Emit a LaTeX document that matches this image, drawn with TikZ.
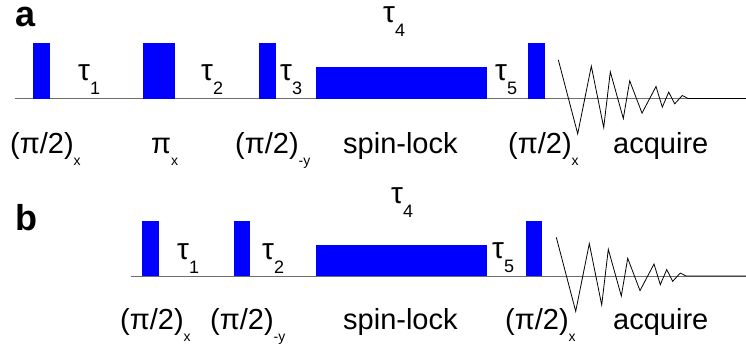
\documentclass[tikz,border=0pt]{standalone}
\usepackage{fontspec}
\setmainfont{Liberation Sans}
\usetikzlibrary{positioning}
\definecolor{pulse}{RGB}{0,0,255}
\definecolor{axisgray}{RGB}{110,110,110}
\newcommand{\tauL}[1]{τ\raisebox{-14pt}{\fontsize{18}{18}\selectfont #1}}
\newcommand{\subL}[1]{\raisebox{-12pt}{\fontsize{14}{14}\selectfont #1}}
\tikzset{pul/.style={fill=pulse,anchor=south west,inner sep=0pt,outer sep=0pt},hp/.style={pul,minimum height=55.5pt},slk/.style={pul,minimum height=31.5pt},base/.style={draw=axisgray,line width=1pt},lbl/.style={anchor=base west,inner sep=0pt,font=\fontsize{29}{30}\selectfont},tlbl/.style={lbl,font=\fontsize{30}{30}\selectfont},panel/.style={anchor=base west,inner sep=0pt,font=\fontsize{36}{36}\selectfont\bfseries},fid/.style={draw=black,line width=0.8pt,line join=miter}}

\begin{document}
\begin{tikzpicture}[x=1pt,y=-1pt]
\useasboundingbox (0,0) rectangle (746,345);
% a
\node[panel] (pa) at (15,27) {a};
\coordinate (a0) at (15,98.5); \coordinate (a9) at (746,98.5);
\draw[base] (a0)--(a9);
\node[hp,minimum width=17pt] (ap1) at (33,98.5) {};
\node[hp,minimum width=32pt] (ap2) at (143,98.5) {};
\node[hp,minimum width=17pt] (ap3) at (259,98.5) {};
\node[slk,minimum width=171pt] (asl) at (316,98.5) {};
\node[hp,minimum width=17pt] (ap4) at (528,98.5) {};
\draw[fid,shift={(0,98.5)}] plot coordinates {(558.3,-38.7) (577.7,35.3) (591.3,-32.4) (603.7,29) (610.3,-26.7) (623.3,20) (629.7,-17.7) (642,14.6) (656,-12) (662.3,8.6) (668.7,-6.4) (674.7,5.3) (682.3,-3) (688,0) (746,0)};
\node[tlbl] (at1) at (78,80) {\tauL{1}};
\node[tlbl] (at2) at (201,80) {\tauL{2}};
\node[tlbl] (at3) at (280,80) {\tauL{3}};
\node[tlbl] (at4) at (383,23) {\tauL{4}};
\node[tlbl] (at5) at (495,80) {\tauL{5}};
\node[lbl] (al1) at (10,153) {(π/2)\subL{x}};
\node[lbl] (al2) at (151,153) {π\subL{x}};
\node[lbl] (al3) at (235,153) {(π/2)\subL{-y}};
\node[lbl] (al4) at (343,153) {spin-lock};
\node[lbl] (al5) at (508,153) {(π/2)\subL{x}};
\node[lbl] (al6) at (613,153) {acquire};
% b
\node[panel] (pb) at (15,230) {b};
\coordinate (b0) at (131,276); \coordinate (b9) at (746,276);
\draw[base] (b0)--(b9);
\node[hp,minimum width=17pt] (bp1) at (142,276) {};
\node[hp,minimum width=16pt] (bp2) at (234,276) {};
\node[slk,minimum width=171pt] (bsl) at (316,276) {};
\node[hp,minimum width=16pt] (bp3) at (526,276) {};
\draw[fid,shift={(-2,276)}] plot coordinates {(558.3,-38.7) (577.7,35.3) (591.3,-32.4) (603.7,29) (610.3,-26.7) (623.3,20) (629.7,-17.7) (642,14.6) (656,-12) (662.3,8.6) (668.7,-6.4) (674.7,5.3) (682.3,-3) (688,0) (748,0)};
\node[tlbl] (bt1) at (177,259) {\tauL{1}};
\node[tlbl] (bt2) at (262,259) {\tauL{2}};
\node[tlbl] (bt4) at (391,203) {\tauL{4}};
\node[tlbl] (bt5) at (492,258) {\tauL{5}};
\node[lbl] (bl1) at (120,329) {(π/2)\subL{x}};
\node[lbl] (bl2) at (210,329) {(π/2)\subL{-y}};
\node[lbl] (bl3) at (343,329) {spin-lock};
\node[lbl] (bl4) at (505,329) {(π/2)\subL{x}};
\node[lbl] (bl5) at (613,329) {acquire};
\end{tikzpicture}
\end{document}
